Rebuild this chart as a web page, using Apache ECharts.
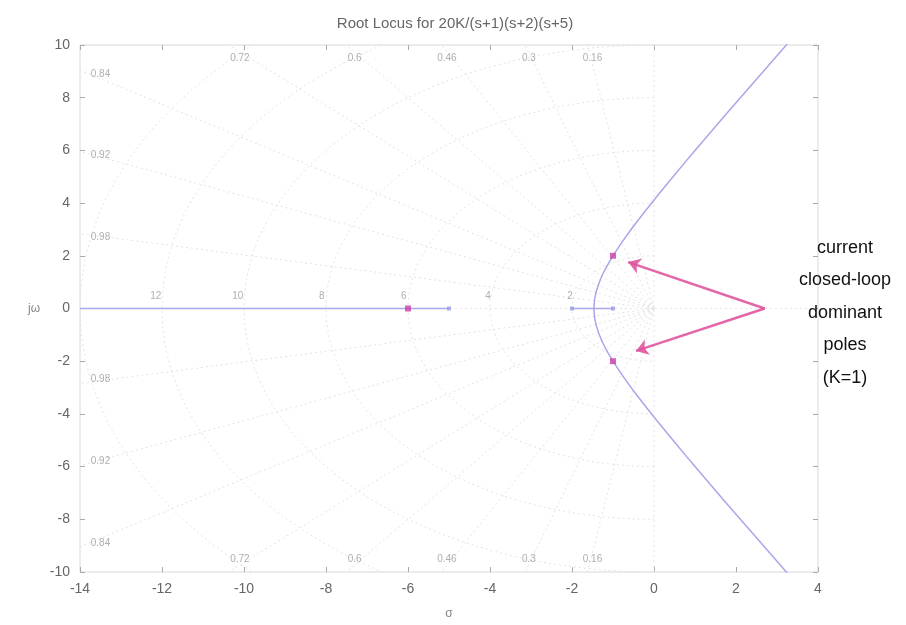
<!DOCTYPE html>
<html><head><meta charset="utf-8">
<script src="https://cdn.jsdelivr.net/npm/echarts@6/dist/echarts.min.js"></script>
<style>html,body{margin:0;padding:0;background:#fff}#c{width:906px;height:625px}</style>
</head><body><div id="c"></div>
<script>
// ---- data ----
var xTicks = [-14, -12, -10, -8, -6, -4, -2, 0, 2, 4];
var yTicks = [-10, -8, -6, -4, -2, 0, 2, 4, 6, 8, 10];
// upper complex branch of the root locus (x, y)
var upperBranch = [[-1.465,0],[-1.45,0.33],[-1.43,0.5],[-1.4,0.69],[-1.3,1.13],[-1.2,1.46],[-1.1,1.74],[-1.0,2.0],[-0.8,2.47],[-0.5,3.12],[0,4.12],[0.5,5.07],[1,6.0],[1.5,6.91],[2,7.81],[2.5,8.7],[3,9.59],[3.5,10.48]];
var lowerBranch = [[-1.465,0],[-1.45,-0.33],[-1.43,-0.5],[-1.4,-0.69],[-1.3,-1.13],[-1.2,-1.46],[-1.1,-1.74],[-1.0,-2.0],[-0.8,-2.47],[-0.5,-3.12],[0,-4.12],[0.5,-5.07],[1,-6.0],[1.5,-6.91],[2,-7.81],[2.5,-8.7],[3,-9.59],[3.5,-10.48]];
var realBranchLeft = [[-14,0],[-5,0]];
var realBranchMid = [[-2,0],[-1,0]];
var openLoopPoles = [[-5,0],[-2,0],[-1,0]];
var closedLoopPoles = [[-6,0],[-1,2],[-1,-2]];
// s-grid
var dampingRatios = [0.16, 0.3, 0.46, 0.6, 0.72, 0.84, 0.92, 0.98];
var natFreqs = [2, 4, 6, 8, 10, 12, 14];
var topDampLabels = [['0.72',-10.1,9.5],['0.6',-7.3,9.5],['0.46',-5.05,9.5],['0.3',-3.05,9.5],['0.16',-1.5,9.5]];
var botDampLabels = [['0.72',-10.1,-9.5],['0.6',-7.3,-9.5],['0.46',-5.05,-9.5],['0.3',-3.05,-9.5],['0.16',-1.5,-9.5]];
var leftDampLabels = [['0.84',-13.5,8.9],['0.92',-13.5,5.8],['0.98',-13.5,2.7],['0.98',-13.5,-2.7],['0.92',-13.5,-5.8],['0.84',-13.5,-8.9]];
var freqLabels = [['12',-12.15,0.45],['10',-10.15,0.45],['8',-8.1,0.45],['6',-6.1,0.45],['4',-4.05,0.45],['2',-2.05,0.45]];
// annotation arrows: tail -> head
var arrows = [[[2.7,0],[-0.63,1.76]],[[2.7,0],[-0.44,-1.61]]];
var noteLines = ['current','closed-loop','dominant','poles','(K=1)'];

var chart = echarts.init(document.getElementById('c'));
var gridCol = '#e2e2e2';
function labelSeries(arr){
  return {type:'scatter', symbolSize:0, silent:true, z:3,
    data: arr.map(function(d){return {value:[d[1],d[2]], name:d[0]};}),
    label:{show:true, position:'inside', formatter:function(p){return p.name;}, color:'#9a9a9a', fontSize:10, fontFamily:'Liberation Sans'}};
}
var tickStyle = {inside:true, length:5, lineStyle:{color:'#aaa'}};
var option = {
  animation:false,
  title:{text:'Root Locus for 20K/(s+1)(s+2)(s+5)', left:450, top:11, textAlign:'center',
    textStyle:{color:'#666', fontSize:15, fontWeight:'normal', fontFamily:'Liberation Sans'}},
  grid:{left:80, right:88, top:45, bottom:46, show:true, borderColor:'#d8d8d8', borderWidth:1},
  xAxis:[{type:'value', min:-14, max:4, interval:2, name:'σ', nameLocation:'middle', nameGap:36,
    nameTextStyle:{color:'#888', fontSize:12},
    axisLine:{show:false, onZero:false}, axisTick:tickStyle,
    axisLabel:{color:'#666', fontSize:14, margin:10, fontFamily:'Liberation Sans'}, splitLine:{show:false}},
    {type:'value', min:-14, max:4, interval:2, position:'top', axisLine:{show:false, onZero:false},
    axisTick:tickStyle, axisLabel:{show:false}, splitLine:{show:false}}],
  yAxis:[{type:'value', min:-10, max:10, interval:2, name:'jω', nameLocation:'middle', nameGap:40, nameRotate:0,
    nameTextStyle:{color:'#888', fontSize:12},
    axisLine:{show:false, onZero:false}, axisTick:tickStyle,
    axisLabel:{color:'#666', fontSize:14, margin:10, fontFamily:'Liberation Sans'}, splitLine:{show:false}},
    {type:'value', min:-10, max:10, interval:2, position:'right', axisLine:{show:false, onZero:false},
    axisTick:tickStyle, axisLabel:{show:false}, splitLine:{show:false}}],
  graphic: noteLines.map(function(t,i){
    return {type:'text', x:845, y:248+i*32.5, style:{text:t, fill:'#111', fontSize:18,
      fontFamily:'Liberation Sans', textAlign:'center', textVerticalAlign:'middle'}, z:10};
  }),
  series:[
    // damping ratio lines
    {type:'custom', silent:true, clip:true, z:1,
     data: dampingRatios.map(function(z){return [z];}),
     renderItem:function(params, api){
       var z = api.value(0), s = Math.sqrt(1 - z*z), L = 30;
       var o = api.coord([0,0]);
       var a = api.coord([-L*z, L*s]), b = api.coord([-L*z, -L*s]);
       var st = {stroke:gridCol, lineWidth:1, lineDash:[2,3]};
       return {type:'group', children:[
         {type:'line', shape:{x1:o[0],y1:o[1],x2:a[0],y2:a[1]}, style:st},
         {type:'line', shape:{x1:o[0],y1:o[1],x2:b[0],y2:b[1]}, style:st}]};
     }},
    // natural frequency semicircles
    {type:'custom', silent:true, clip:true, z:1,
     data: natFreqs.map(function(w){return [w];}),
     renderItem:function(params, api){
       var w = api.value(0), pts = [];
       for (var k=0;k<=90;k++){ var t = Math.PI/2 + Math.PI*k/90; pts.push(api.coord([w*Math.cos(t), w*Math.sin(t)])); }
       return {type:'polyline', shape:{points:pts}, style:{stroke:gridCol, fill:null, lineWidth:1, lineDash:[2,3]}};
     }},
    // imaginary axis and real axis light lines
    {type:'line', data:[[0,-10],[0,10]], symbol:'none', silent:true, z:1, lineStyle:{color:'#e4e4e4', width:1, type:[2,3]}},
    {type:'line', data:[[-14,0],[4,0]], symbol:'none', silent:true, z:1, lineStyle:{color:'#e4e4e4', width:1, type:[2,3]}},
    labelSeries(topDampLabels), labelSeries(botDampLabels), labelSeries(leftDampLabels), labelSeries(freqLabels),
    // locus
    {type:'line', data:realBranchLeft, symbol:'none', z:4, lineStyle:{color:'#a7a7ea', width:1.5}},
    {type:'line', data:realBranchMid, symbol:'none', z:4, lineStyle:{color:'#a7a7ea', width:1.5}},
    {type:'line', data:upperBranch, symbol:'none', smooth:0.2, clip:true, z:4, lineStyle:{color:'#a7a7ea', width:1.5}},
    {type:'line', data:lowerBranch, symbol:'none', smooth:0.2, clip:true, z:4, lineStyle:{color:'#a7a7ea', width:1.5}},
    {type:'scatter', data:openLoopPoles, symbol:'rect', symbolSize:4, z:5, itemStyle:{color:'#9a9ae6'}},
    {type:'scatter', data:closedLoopPoles, symbol:'rect', symbolSize:6, z:6, itemStyle:{color:'#cc3fa8'}},
    // arrows
    {type:'lines', coordinateSystem:'cartesian2d', z:7, symbol:['none','arrow'], symbolSize:12,
     data: arrows.map(function(a){return {coords:a};}),
     lineStyle:{color:'#e0559e', width:2.5, opacity:0.9}}
  ]
};
chart.setOption(option);
</script></body></html>
